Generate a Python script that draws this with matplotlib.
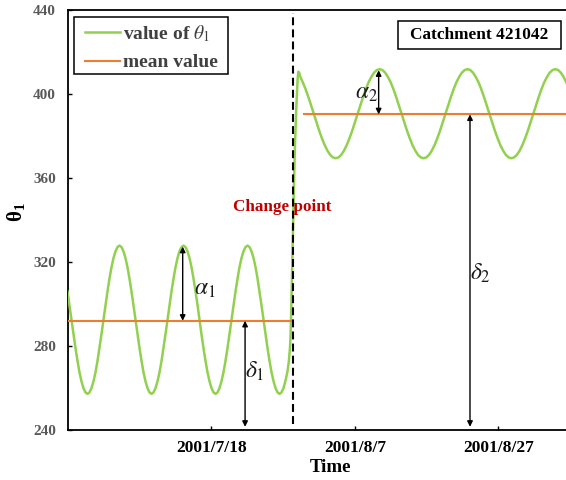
import matplotlib
matplotlib.use('Agg')
import matplotlib.pyplot as plt
from matplotlib.lines import Line2D
from matplotlib.patches import Rectangle

plt.rcParams['font.family'] = ['Liberation Serif', 'DejaVu Serif']
plt.rcParams['mathtext.fontset'] = 'stix'

# days counted from 2001/6/28
days_before = [-0.07, 0.21, 0.49, 0.77, 1.05, 1.33, 1.60, 1.88, 2.16, 2.44,
               2.72, 3.00, 3.28, 3.56, 3.84, 4.12, 4.39, 4.67, 4.95, 5.23,
               5.51, 5.79, 6.07, 6.35, 6.63, 6.91, 7.18, 7.46, 7.74, 8.02,
               8.30, 8.58, 8.86, 9.14, 9.42, 9.70, 9.98, 10.26, 10.53, 10.81,
               11.09, 11.37, 11.65, 11.93, 12.21, 12.49, 12.77, 13.05, 13.32, 13.60,
               13.88, 14.16, 14.44, 14.72, 15.00, 15.28, 15.55, 15.83, 16.11, 16.39,
               16.67, 16.95, 17.23, 17.51, 17.79, 18.07, 18.34, 18.62, 18.90, 19.18,
               19.46, 19.74, 20.02, 20.30, 20.58, 20.86, 21.13, 21.41, 21.69, 21.97,
               22.25, 22.53, 22.81, 23.09, 23.37, 23.65, 23.92, 24.20, 24.48, 24.76,
               25.04, 25.32, 25.60, 25.88, 26.16, 26.44, 26.71, 26.99, 27.27, 27.55,
               27.83, 28.11, 28.39, 28.67, 28.95, 29.23, 29.50]
theta_before = [306.0, 299.4, 292.5, 285.6, 279.0, 272.9, 267.5, 263.2, 259.9, 257.9,
                257.2, 257.9, 259.9, 263.2, 267.5, 272.9, 279.0, 285.6, 292.5, 299.4,
                306.0, 312.1, 317.5, 321.9, 325.1, 327.1, 327.8, 327.1, 325.1, 321.9,
                317.5, 312.1,
                306.0, 299.4, 292.5, 285.6, 279.0, 272.9, 267.5, 263.2, 259.9, 257.9,
                257.2, 257.9, 259.9, 263.2, 267.5, 272.9, 279.0, 285.6, 292.5, 299.4,
                306.0, 312.1, 317.5, 321.9, 325.1, 327.1, 327.8, 327.1, 325.1, 321.9,
                317.5, 312.1,
                306.0, 299.4, 292.5, 285.6, 279.0, 272.9, 267.5, 263.2, 259.9, 257.9,
                257.2, 257.9, 259.9, 263.2, 267.5, 272.9, 279.0, 285.6, 292.5, 299.4,
                306.0, 312.1, 317.5, 321.9, 325.1, 327.1, 327.8, 327.1, 325.1, 321.9,
                317.5, 312.1,
                306.0, 299.4, 292.5, 285.6, 279.0, 272.9, 267.5, 263.2, 259.9, 257.9,
                257.2]

# the jump around the change point
days_jump = [29.78, 30.06, 30.34, 30.62, 30.80, 30.96, 31.04, 31.10, 31.18, 31.26,
             31.34, 31.42, 31.50, 31.59, 31.67, 31.76, 31.85, 31.94, 32.03, 32.12,
             32.26, 32.40, 32.58, 32.75, 33.13, 33.51, 33.90, 34.28, 34.66, 35.04,
             35.43, 35.81, 36.19, 36.57, 36.96]
theta_jump = [257.9, 259.9, 263.5, 268.0, 272.5, 279.0, 284.5, 292.0, 303.0, 316.0,
              329.0, 342.0, 354.0, 366.0, 377.0, 386.0, 394.0, 401.0, 407.0, 410.6,
              410.0, 408.3, 406.8, 405.6, 402.4, 398.7, 394.7, 390.6, 386.5, 382.5,
              378.8, 375.6, 373.0, 371.0, 369.8]

days_after = [37.34, 37.72, 38.11, 38.49, 38.87, 39.25, 39.64, 40.02, 40.40, 40.79,
              41.17, 41.55, 41.93, 42.32, 42.70, 43.08, 43.47, 43.85, 44.23, 44.61,
              45.00, 45.38, 45.76, 46.14, 46.53, 46.91, 47.29, 47.68, 48.06, 48.44,
              48.82, 49.21, 49.59, 49.97, 50.36, 50.74, 51.12, 51.50, 51.89, 52.27,
              52.65, 53.04, 53.42, 53.80, 54.18, 54.57, 54.95, 55.33, 55.72, 56.10,
              56.48, 56.86, 57.25, 57.63, 58.01, 58.39, 58.78, 59.16, 59.54, 59.93,
              60.31, 60.69, 61.07, 61.46, 61.84, 62.22, 62.61, 62.99, 63.37, 63.75,
              64.14, 64.52, 64.90, 65.29, 65.67, 66.05, 66.43, 66.82, 67.20, 67.58,
              67.97, 68.35, 68.73, 69.11, 69.50, 69.88]
theta_after = [369.4, 369.8, 371.0, 373.0, 375.6, 378.8, 382.5, 386.5, 390.6, 394.7,
               398.7, 402.4, 405.6, 408.2, 410.2, 411.4, 411.8, 411.4, 410.2, 408.2,
               405.6, 402.4, 398.7, 394.7, 390.6, 386.5, 382.5, 378.8, 375.6, 373.0,
               371.0, 369.8,
               369.4, 369.8, 371.0, 373.0, 375.6, 378.8, 382.5, 386.5, 390.6, 394.7,
               398.7, 402.4, 405.6, 408.2, 410.2, 411.4, 411.8, 411.4, 410.2, 408.2,
               405.6, 402.4, 398.7, 394.7, 390.6, 386.5, 382.5, 378.8, 375.6, 373.0,
               371.0, 369.8,
               369.4, 369.8, 371.0, 373.0, 375.6, 378.8, 382.5, 386.5, 390.6, 394.7,
               398.7, 402.4, 405.6, 408.2, 410.2, 411.4, 411.8, 411.4, 410.2, 408.2,
               405.6, 402.4]

days = days_before + days_jump + days_after
theta = theta_before + theta_jump + theta_after

mean_before_days = [0.0, 31.10]
mean_before = 292.0
mean_after_days = [32.96, 70.0]
mean_after = 390.3

change_day = 31.45

tick_days = [20, 40, 60]
tick_labels = ['2001/7/18', '2001/8/7', '2001/8/27']
y_ticks = [240, 280, 320, 360, 400, 440]

green = '#92D050'
orange = '#ED7D31'

fig = plt.figure(figsize=(5.66, 4.8), dpi=100)
ax = fig.add_axes([0.1201, 0.1042, 0.8799, 0.875])

ax.plot(days, theta, color=green, lw=1.8, zorder=3)
ax.plot(mean_before_days, [mean_before, mean_before], color=orange, lw=1.5, zorder=4)
ax.plot(mean_after_days, [mean_after, mean_after], color=orange, lw=1.5, zorder=4)
ax.axvline(change_day, ymin=0.015, ymax=0.993, color='black', lw=1.5,
           ls=(0, (3.8, 2)), zorder=5)

ax.set_xlim(0, 69.46)
ax.set_ylim(240, 440)
ax.set_xticks(tick_days)
ax.set_xticklabels(tick_labels, fontsize=12.5, fontweight='bold', color='black')
ax.set_yticks(y_ticks)
ax.set_yticklabels([str(v) for v in y_ticks], fontsize=11, fontweight='bold',
                   color='#595959')
ax.tick_params(axis='x', direction='in', length=3, width=1, pad=7)
ax.tick_params(axis='y', direction='in', length=3, width=1, pad=8.6)

for side in ['left', 'bottom', 'top']:
    ax.spines[side].set_linewidth(1.3)
    ax.spines[side].set_color('black')
ax.spines['right'].set_visible(False)

ax.set_xlabel('Time', fontsize=13.6, fontweight='bold', va='center')
ax.xaxis.set_label_coords(0.528, -0.0905)
ax.set_ylabel(r'$\mathregular{\theta_1}$', fontsize=15, fontweight='bold')
ax.yaxis.set_label_coords(-0.082, 0.519)

# double-headed arrows for amplitudes and mean levels
arrow = dict(arrowstyle='<|-|>', color='black', lw=1, mutation_scale=8,
             shrinkA=0, shrinkB=0)
ax.annotate('', xy=(16.0, 327.3), xytext=(16.0, mean_before), arrowprops=arrow, zorder=6)
ax.annotate('', xy=(24.7, mean_before), xytext=(24.7, 241.5), arrowprops=arrow, zorder=6)
ax.annotate('', xy=(43.33, 411.3), xytext=(43.33, mean_after), arrowprops=arrow, zorder=6)
ax.annotate('', xy=(56.07, mean_after), xytext=(56.07, 241.5), arrowprops=arrow, zorder=6)

sym = dict(fontsize=17, color='#1a1a1a', ha='center', va='center', zorder=7)
ax.text(19.1, 306.7, r'$\alpha_1$', **sym)
ax.text(26.1, 267.8, r'$\delta_1$', **sym)
ax.text(41.66, 400.3, r'$\alpha_2$', **sym)
ax.text(57.46, 314.6, r'$\delta_2$', **sym)

ax.text(29.92, 346.2, 'Change point', fontsize=12.3, fontweight='bold',
        color='#C00000', ha='center', va='center', zorder=6)

# catchment label box
ax.add_patch(Rectangle((0.6627, 0.9071), 0.3273, 0.0667, transform=ax.transAxes,
                       fc='white', ec='black', lw=1.1, zorder=8))
ax.text(0.826, 0.940, 'Catchment 421042', transform=ax.transAxes,
        fontsize=12.4, fontweight='bold', ha='center', va='center', zorder=9)

# legend frame drawn separately so the padding can differ per side
ax.add_patch(Rectangle((0.012, 0.8476), 0.3092, 0.1357, transform=ax.transAxes,
                       fc='white', ec='black', lw=1.1, zorder=8))
handles = [Line2D([], [], color=green, lw=1.8),
           Line2D([], [], color=orange, lw=1.5)]
leg = ax.legend(handles, [r'value of $\theta_1$', 'mean value'],
                loc='upper left', bbox_to_anchor=(0.034, 0.969), borderaxespad=0,
                prop={'family': 'Liberation Serif', 'weight': 'bold', 'size': 14},
                handlelength=1.8, handletextpad=0.15, borderpad=0,
                labelspacing=0.52, frameon=False)
leg.set_zorder(9)
for t in leg.get_texts():
    t.set_color('#404040')

fig.savefig('out.png', dpi=100)
